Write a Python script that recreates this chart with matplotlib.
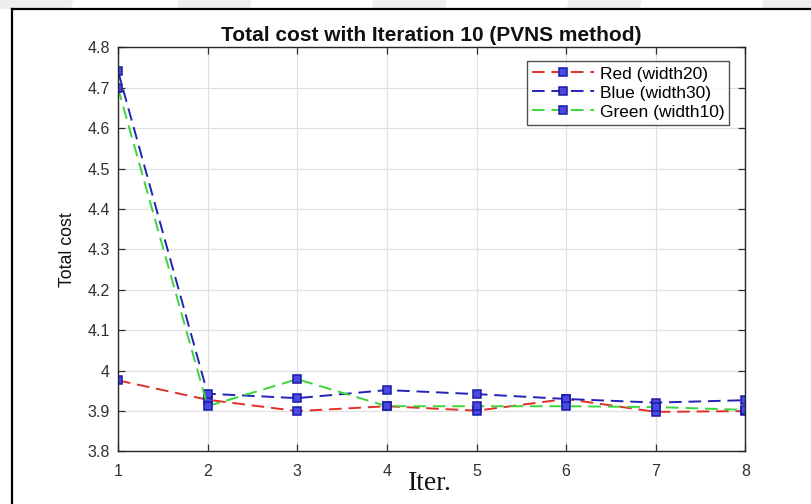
import matplotlib
matplotlib.use("Agg")
import matplotlib.pyplot as plt
from matplotlib.lines import Line2D
from matplotlib.patches import Polygon

# Total cost per iteration for three widths
iters = [1, 2, 3, 4, 5, 6, 7, 8]
red_cost = [3.976, 3.928, 3.900, 3.912, 3.901, 3.930, 3.898, 3.900]
blue_cost = [4.742, 3.943, 3.932, 3.952, 3.942, 3.930, 3.921, 3.927]
green_cost = [4.700, 3.912, 3.979, 3.912, 3.912, 3.912, 3.910, 3.903]

series_labels = ["Red (width20)", "Blue (width30)", "Green (width10)"]
xticks = [1, 2, 3, 4, 5, 6, 7, 8]
yticks = [3.8, 3.9, 4.0, 4.1, 4.2, 4.3, 4.4, 4.5, 4.6, 4.7, 4.8]
ytick_labels = ["3.8", "3.9", "4", "4.1", "4.2", "4.3", "4.4", "4.5", "4.6", "4.7", "4.8"]

plt.rcParams["font.family"] = ["Liberation Sans", "DejaVu Sans"]

fig = plt.figure(figsize=(8.12, 5.04), dpi=100)
fig.patch.set_facecolor("white")

# faint diagonal bands in the strip above the frame
for x0 in [0.0, 0.22, 0.46, 0.70, 0.94]:
    band = Polygon([(x0, 1.0), (x0 + 0.09, 1.0), (x0 + 0.088, 0.982), (x0 - 0.002, 0.982)],
                   closed=True, transform=fig.transFigure, facecolor="#eeeeee",
                   edgecolor="none", zorder=-10)
    fig.patches.append(band)

# outer frame lines
fig.add_artist(Line2D([0.0148, 0.0148], [0.0, 0.982], transform=fig.transFigure,
                      color="black", lw=1.6))
fig.add_artist(Line2D([0.0148, 1.0], [0.982, 0.982], transform=fig.transFigure,
                      color="black", lw=1.6))

ax = fig.add_axes([0.1453, 0.1042, 0.918 - 0.1453, 0.9058 - 0.1042])
ax.set_facecolor("white")

marker_kw = dict(marker="s", markersize=5.5, markerfacecolor="#4a4ae0",
                 markeredgecolor="#1a1aa8", markeredgewidth=1.1)
dash = (0, (6.5, 3.5))
ax.plot(iters, red_cost, color="#e0302a", lw=1.4, linestyle=dash,
        label=series_labels[0], **marker_kw)
ax.plot(iters, blue_cost, color="#2222b8", lw=1.4, linestyle=dash,
        label=series_labels[1], **marker_kw)
ax.plot(iters, green_cost, color="#3ad63a", lw=1.4, linestyle=dash,
        label=series_labels[2], **marker_kw)

ax.set_xlim(1, 8)
ax.set_ylim(3.8, 4.8)
ax.set_xticks(xticks)
ax.set_yticks(yticks)
ax.set_yticklabels(ytick_labels)
ax.grid(True, color="#e0e0e0", lw=0.9)
ax.set_axisbelow(True)
ax.tick_params(direction="in", length=5, width=0.9, top=True, right=True,
               labelsize=11.5, colors="#303030", pad=6)
ax.tick_params(axis="x", pad=9)
for s in ax.spines.values():
    s.set_color("#262626")
    s.set_linewidth(1.0)

ax.set_title("Total cost with Iteration 10 (PVNS method)", fontsize=15,
             fontweight="bold", pad=5, color="#111111")
ax.set_ylabel("Total cost", fontsize=12.8, color="#111111", labelpad=8)
fig.text(0.53, 0.0397, "Iter.", family=["Liberation Serif", "DejaVu Serif"],
         fontsize=20, ha="center", va="center", color="#111111")

leg = ax.legend(loc="upper right", bbox_to_anchor=(0.9745, 0.966), fontsize=12.5,
                frameon=True, fancybox=False, edgecolor="#262626",
                handlelength=3.6, borderpad=0.3, labelspacing=0.22,
                handletextpad=0.3, borderaxespad=0.0)
leg.get_frame().set_linewidth(1.0)

fig.savefig("out.png", dpi=100, facecolor="white")
